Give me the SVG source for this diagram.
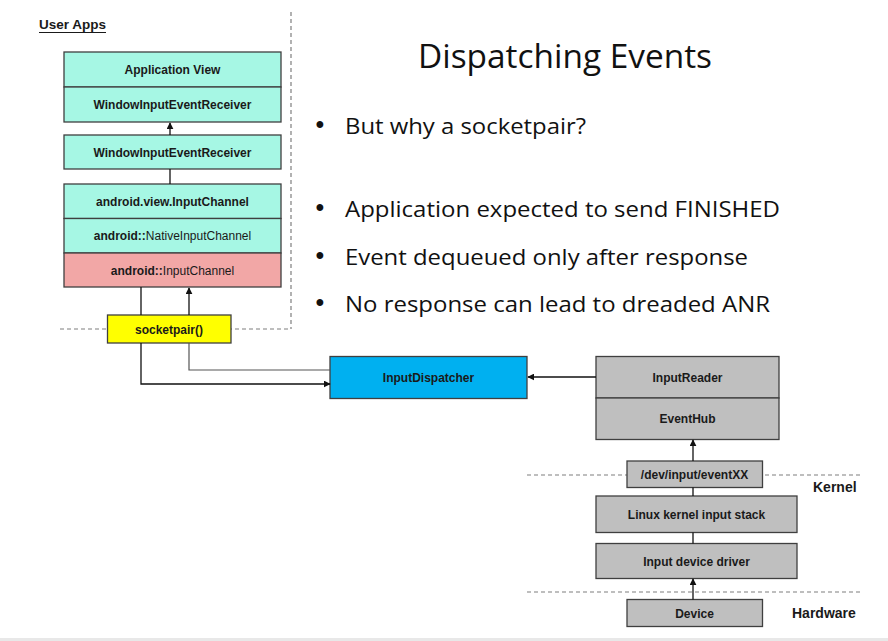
<svg xmlns="http://www.w3.org/2000/svg" width="888" height="641" viewBox="0 0 888 641">
<style>
.box{stroke:#3f3f3f;stroke-width:1.3}
.teal{fill:#a6f7e4}
.pink{fill:#f2a7a6}
.yellow{fill:#ffff00}
.blue{fill:#00b0f0}
.gray{fill:#bfbfbf}
.lbl{font-family:"Liberation Sans",Arial,sans-serif;font-weight:bold;font-size:12px;fill:#1a1a1a;text-anchor:middle}
.n{font-weight:normal}
.side{font-family:"Liberation Sans",Arial,sans-serif;font-weight:bold;font-size:14px;fill:#1a1a1a}
.big{font-family:"Open Sans","Liberation Sans",sans-serif;fill:#111}
.dot{font-family:"Liberation Sans",Arial,sans-serif;font-size:25px;fill:#111;text-anchor:middle}
.dash{stroke:#7f7f7f;stroke-width:1.2;stroke-dasharray:4 3;fill:none}
.ln{stroke:#111;stroke-width:1.3;fill:none}
.arr{stroke:#111;stroke-width:1.3;fill:none;marker-end:url(#ah)}
</style>
<defs>
<marker id="ah" viewBox="0 0 10 10" refX="9" refY="5" markerWidth="7" markerHeight="7" markerUnits="userSpaceOnUse" orient="auto">
<path d="M0,0 L10,5 L0,10 z" fill="#111"/>
</marker>
</defs>
<rect width="888" height="641" fill="#ffffff"/>
<rect x="0" y="638" width="888" height="3" fill="#e8e8e8"/>

<g id="separators">
<path class="dash" d="M291,12 V329"/>
<path class="dash" d="M60,329 H291"/>
<path class="dash" d="M527,475 H860"/>
<path class="dash" d="M527,592 H860"/>
</g>

<g id="title">
<text class="big" x="418" y="68" font-size="32" textLength="294" lengthAdjust="spacingAndGlyphs">Dispatching Events</text>
</g>
<g id="bullets">
<text class="dot" x="320" y="133">•</text>
<text class="big" x="345" y="134" font-size="22" textLength="241" lengthAdjust="spacingAndGlyphs">But why a socketpair?</text>
<text class="dot" x="320" y="216">•</text>
<text class="big" x="345" y="217" font-size="22" textLength="435" lengthAdjust="spacingAndGlyphs">Application expected to send FINISHED</text>
<text class="dot" x="320" y="264">•</text>
<text class="big" x="345" y="265" font-size="22" textLength="403" lengthAdjust="spacingAndGlyphs">Event dequeued only after response</text>
<text class="dot" x="320" y="311">•</text>
<text class="big" x="345" y="312" font-size="22" textLength="425" lengthAdjust="spacingAndGlyphs">No response can lead to dreaded ANR</text>
</g>

<g id="user-apps-label">
<text x="39" y="29" font-family="'Liberation Sans',Arial,sans-serif" font-weight="bold" font-size="12.5" fill="#1a1a1a" textLength="67" lengthAdjust="spacingAndGlyphs">User Apps</text>
<line x1="39" y1="32.5" x2="106" y2="32.5" stroke="#1a1a1a" stroke-width="1"/>
</g>

<g id="application-view">
<rect class="box teal" x="64" y="52" width="217" height="35"/>
<text class="lbl" x="172.5" y="74">Application View</text>
</g>
<g id="window-input-event-receiver-1">
<rect class="box teal" x="64" y="87" width="217" height="35"/>
<text class="lbl" x="172.5" y="108.5">WindowInputEventReceiver</text>
</g>
<g id="window-input-event-receiver-2">
<rect class="box teal" x="64" y="135" width="217" height="34"/>
<text class="lbl" x="172.5" y="156.5">WindowInputEventReceiver</text>
</g>
<g id="view-input-channel">
<rect class="box teal" x="64" y="184" width="217" height="34.5"/>
<text class="lbl" x="172.5" y="205.5">android.view.InputChannel</text>
</g>
<g id="native-input-channel">
<rect class="box teal" x="64" y="218.5" width="217" height="34.5"/>
<text class="lbl" x="172.5" y="240">android::<tspan class="n">NativeInputChannel</tspan></text>
</g>
<g id="input-channel">
<rect class="box pink" x="64" y="253" width="217" height="34"/>
<text class="lbl" x="172.5" y="274.5">android::<tspan class="n">InputChannel</tspan></text>
</g>
<g id="socketpair">
<rect class="box yellow" x="107.5" y="315" width="123.5" height="28"/>
<text class="lbl" x="169" y="333.5">socketpair()</text>
</g>
<g id="input-dispatcher">
<rect class="box blue" x="330" y="356.5" width="197" height="42"/>
<text class="lbl" x="428.5" y="382">InputDispatcher</text>
</g>
<g id="input-reader">
<rect class="box gray" x="596" y="356.5" width="183" height="41.5"/>
<text class="lbl" x="687.5" y="382">InputReader</text>
</g>
<g id="event-hub">
<rect class="box gray" x="596" y="398" width="183" height="41.5"/>
<text class="lbl" x="687.5" y="423">EventHub</text>
</g>
<g id="dev-input">
<rect class="box gray" x="627" y="461" width="135.5" height="26.5"/>
<text class="lbl" x="694.5" y="478.5">/dev/input/eventXX</text>
</g>
<g id="kernel-stack">
<rect class="box gray" x="596" y="496" width="201" height="36.5"/>
<text class="lbl" x="696.5" y="518.5">Linux kernel input stack</text>
</g>
<g id="device-driver">
<rect class="box gray" x="596" y="543.5" width="201" height="35"/>
<text class="lbl" x="696.5" y="565.5">Input device driver</text>
</g>
<g id="device">
<rect class="box gray" x="627" y="599.5" width="135.5" height="27"/>
<text class="lbl" x="694.5" y="617.5">Device</text>
</g>
<g id="layer-labels">
<text class="side" x="813" y="492">Kernel</text>
<text class="side" x="792" y="618">Hardware</text>
</g>

<g id="connectors">
<path class="arr" d="M170,135 V123"/>
<path class="ln" d="M170,169 V184"/>
<path class="ln" d="M141,287 V315"/>
<path class="arr" d="M189,315 V288"/>
<path class="arr" d="M141,343 V384 H330"/>
<path d="M189,343 V370 H330" stroke="#555" stroke-width="1.2" fill="none"/>
<path class="arr" d="M596,377 H528"/>
<path class="arr" d="M693,461 V440"/>
<path class="ln" d="M693,487.5 V496"/>
<path class="ln" d="M693,532.5 V543.5"/>
<path class="arr" d="M693,599.5 V579"/>
</g>
</svg>
